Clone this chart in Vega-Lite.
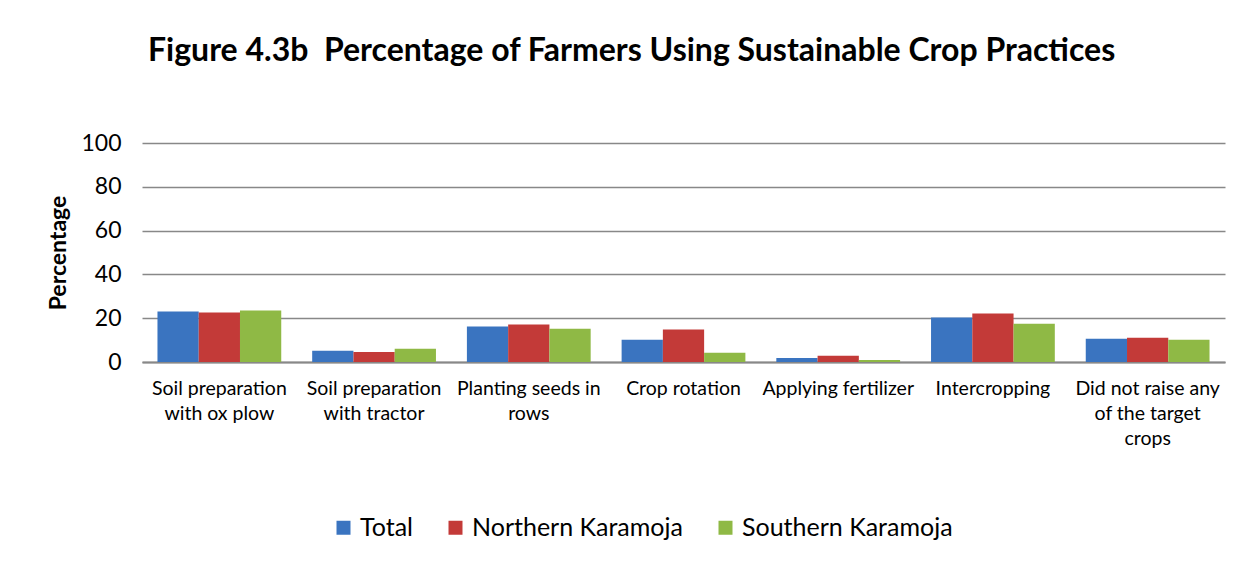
{
  "$schema": "https://vega.github.io/schema/vega-lite/v6.json",
  "width": 1083,
  "height": 219,
  "autosize": {"type": "none"},
  "padding": {"left": 142, "top": 143, "right": 28, "bottom": 203},
  "background": "white",
  "config": {
    "font": "Lato",
    "view": {"stroke": null}
  },
  "title": {
    "text": "Figure 4.3b\u00a0\u00a0Percentage of Farmers Using Sustainable Crop Practices",
    "anchor": "start",
    "frame": "group",
    "dx": 6,
    "offset": 64,
    "fontSize": 32,
    "fontWeight": "bold",
    "font": "Lato",
    "color": "black"
  },
  "data": {
    "values": [
      {"practice": "Soil preparation|with ox plow", "group": "Total", "pct": 23.1},
      {"practice": "Soil preparation|with ox plow", "group": "Northern Karamoja", "pct": 22.6},
      {"practice": "Soil preparation|with ox plow", "group": "Southern Karamoja", "pct": 23.5},
      {"practice": "Soil preparation|with tractor", "group": "Total", "pct": 5.1},
      {"practice": "Soil preparation|with tractor", "group": "Northern Karamoja", "pct": 4.6},
      {"practice": "Soil preparation|with tractor", "group": "Southern Karamoja", "pct": 6.0},
      {"practice": "Planting seeds in|rows", "group": "Total", "pct": 16.2},
      {"practice": "Planting seeds in|rows", "group": "Northern Karamoja", "pct": 17.1},
      {"practice": "Planting seeds in|rows", "group": "Southern Karamoja", "pct": 15.2},
      {"practice": "Crop rotation", "group": "Total", "pct": 10.2},
      {"practice": "Crop rotation", "group": "Northern Karamoja", "pct": 14.8},
      {"practice": "Crop rotation", "group": "Southern Karamoja", "pct": 4.2},
      {"practice": "Applying fertilizer", "group": "Total", "pct": 1.8},
      {"practice": "Applying fertilizer", "group": "Northern Karamoja", "pct": 2.8},
      {"practice": "Applying fertilizer", "group": "Southern Karamoja", "pct": 0.9},
      {"practice": "Intercropping", "group": "Total", "pct": 20.3},
      {"practice": "Intercropping", "group": "Northern Karamoja", "pct": 22.2},
      {"practice": "Intercropping", "group": "Southern Karamoja", "pct": 17.5},
      {"practice": "Did not raise any|of the target|crops", "group": "Total", "pct": 10.6},
      {"practice": "Did not raise any|of the target|crops", "group": "Northern Karamoja", "pct": 11.1},
      {"practice": "Did not raise any|of the target|crops", "group": "Southern Karamoja", "pct": 10.2}
    ]
  },
  "mark": {"type": "bar"},
  "encoding": {
    "x": {
      "field": "practice",
      "type": "nominal",
      "sort": null,
      "scale": {"paddingInner": 0.2, "paddingOuter": 0.1},
      "axis": {
        "title": null,
        "labelAngle": 0,
        "labelExpr": "split(datum.label, '|')",
        "labelFontSize": 19.5,
        "labelLineHeight": 25,
        "labelColor": "black",
        "labelPadding": 17,
        "labelBaseline": "top",
        "ticks": false,
        "domainColor": "#888888",
        "domainWidth": 2,
        "grid": false
      }
    },
    "xOffset": {"field": "group", "type": "nominal", "sort": ["Total", "Northern Karamoja", "Southern Karamoja"]},
    "y": {
      "field": "pct",
      "type": "quantitative",
      "scale": {"domain": [0, 100]},
      "axis": {
        "title": "Percentage",
        "titleFontSize": 23,
        "titleFontWeight": "bold",
        "titleColor": "black",
        "titlePadding": 10,
        "values": [0, 20, 40, 60, 80, 100],
        "labelFontSize": 23,
        "labelColor": "black",
        "labelPadding": 21,
        "ticks": false,
        "domain": false,
        "gridColor": "#888888",
        "gridWidth": 1.5
      }
    },
    "color": {
      "field": "group",
      "type": "nominal",
      "sort": ["Total", "Northern Karamoja", "Southern Karamoja"],
      "scale": {
        "domain": ["Total", "Northern Karamoja", "Southern Karamoja"],
        "range": ["#3a74c0", "#c33a38", "#8fb945"]
      },
      "legend": {
        "title": null,
        "orient": "none",
        "legendX": 189,
        "legendY": 372,
        "direction": "horizontal",
        "symbolType": "square",
        "symbolSize": 196,
        "symbolStrokeWidth": 0,
        "labelFontSize": 25,
        "labelLimit": 400,
        "labelColor": "black",
        "labelOffset": 4,
        "columnPadding": 30
      }
    }
  }
}
